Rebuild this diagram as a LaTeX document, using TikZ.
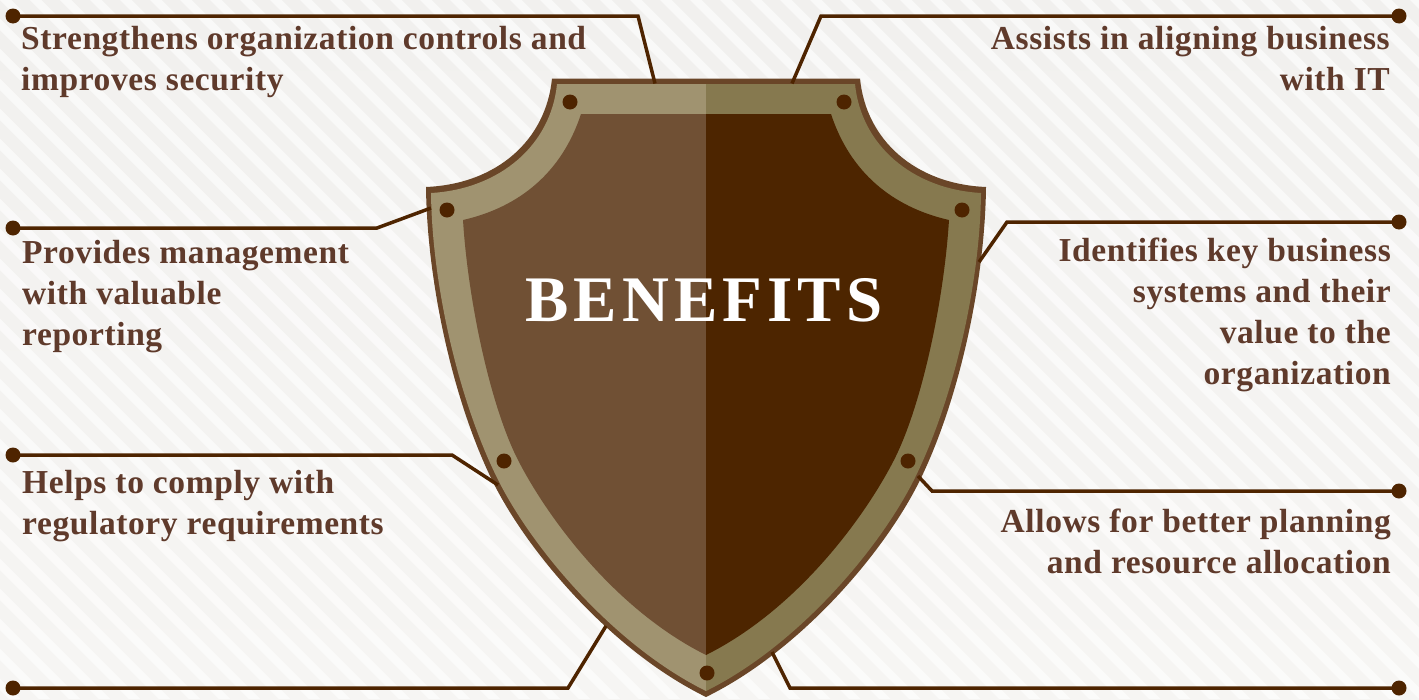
\documentclass[tikz,border=0pt]{standalone}
\usepackage{fontspec}
\setmainfont{Liberation Serif}
\newfontfamily\lblfont[LetterSpace=1.8]{Liberation Serif}
\newfontfamily\ttlfont[LetterSpace=7.8]{Liberation Serif}
\definecolor{linec}{HTML}{4E2400}
\definecolor{edgec}{HTML}{6A4628}
\definecolor{bandl}{HTML}{A09370}
\definecolor{bandr}{HTML}{86794F}
\definecolor{panl}{HTML}{705034}
\definecolor{panr}{HTML}{4D2500}
\definecolor{txtc}{HTML}{5F3A2B}
\definecolor{bgtop}{HTML}{F1F0EE}
\definecolor{bgbot}{HTML}{F6F5F3}
\tikzset{
  x=1pt,y=-1pt,
  dotn/.style={circle,fill=linec,inner sep=0pt,minimum size=15pt},
  stud/.style={circle,fill=linec,inner sep=0pt,minimum size=15pt},
  conn/.style={draw=linec,line width=3.5pt,line join=miter},
  lbl/.style={inner sep=0pt,text=txtc,font=\fontsize{33.5}{41}\selectfont\lblfont\bfseries},
  lbll/.style={lbl,anchor=north west,align=left},
  lblr/.style={lbl,anchor=north east,align=right},
}
\begin{document}
\begin{tikzpicture}
\useasboundingbox (0,0) rectangle (1419,699);
\shade[top color=bgtop,bottom color=bgbot] (0,0) rectangle (1419,699);
\begin{scope}
\clip (0,0) rectangle (1419,699);
\foreach \i in {-24,...,48}{
  \fill[white,opacity=.6] ({\i*30},0) -- ({\i*30+11.5},0) -- ({\i*30+11.5+699},699) -- ({\i*30+699},699) -- cycle;
}
\end{scope}
% shield outer
\fill[edgec] (552,78.5) -- (860,78.5)
  .. controls (866,140) and (915,184) .. (986,187)
  .. controls (985,280) and (960,397) .. (921,478)
  .. controls (887,549) and (802,650) .. (706,697)
  .. controls (610,650) and (525,549) .. (491,478)
  .. controls (452,397) and (427,280) .. (426,187)
  .. controls (497,184) and (546,140) .. (552,78.5) -- cycle;
% metal band
\fill[bandl] (557,84) -- (706,84) -- (706,691)
  .. controls (613,645) and (530,546) .. (496,475.7)
  .. controls (457,395) and (432,282) .. (431,193)
  .. controls (500,189) and (551,145) .. (557,84) -- cycle;
\fill[bandr] (855,84) -- (706,84) -- (706,691)
  .. controls (799,645) and (882,546) .. (916,475.7)
  .. controls (955,395) and (980,282) .. (981,193)
  .. controls (912,189) and (861,145) .. (855,84) -- cycle;
% panel
\fill[panl] (581,114) -- (706,114) -- (706,655)
  .. controls (612,608) and (545,513) .. (518,460)
  .. controls (490,405) and (468,300) .. (463,220)
  .. controls (520,207) and (562,172) .. (581,114) -- cycle;
\fill[panr] (831,114) -- (706,114) -- (706,655)
  .. controls (800,608) and (867,513) .. (894,460)
  .. controls (922,405) and (944,300) .. (949,220)
  .. controls (892,207) and (850,172) .. (831,114) -- cycle;
% end dots
\node[dotn] (a1) at (13,16) {};
\node[dotn] (b1) at (1399,16) {};
\node[dotn] (a2) at (13,228) {};
\node[dotn] (b2) at (1399,222) {};
\node[dotn] (a3) at (13,455) {};
\node[dotn] (b3) at (1399,491) {};
\node[dotn] (a4) at (13,688) {};
\node[dotn] (b4) at (1399,688) {};
\coordinate (ae1) at (655,83.5);
\coordinate (be1) at (792,83.5);
\coordinate (ae2) at (431,208);
\coordinate (be2) at (979,262);
\coordinate (ae3) at (498,485);
\coordinate (be3) at (918,476);
\coordinate (ae4) at (606,626);
\coordinate (be4) at (772,652);
\draw[conn] (a1.center) -- (638,16) -- (ae1);
\draw[conn] (b1.center) -- (821,16) -- (be1);
\draw[conn] (a2.center) -- (377,228) -- (ae2);
\draw[conn] (b2.center) -- (1007,222) -- (be2);
\draw[conn] (a3.center) -- (452,455) -- (ae3);
\draw[conn] (b3.center) -- (932,491) -- (be3);
\draw[conn] (a4.center) -- (568,688) -- (ae4);
\draw[conn] (b4.center) -- (790,688) -- (be4);
% studs
\node[stud] (s1) at (570,102) {};
\node[stud] (s2) at (844,102) {};
\node[stud] (s3) at (447,210) {};
\node[stud] (s4) at (962,210) {};
\node[stud] (s5) at (504,461) {};
\node[stud] (s6) at (908,461) {};
\node[stud] (s7) at (707,673) {};
% title
\node[inner sep=0pt,anchor=base,text=white,font=\fontsize{65}{65}\selectfont\ttlfont\bfseries] (title) at (704,321) {BENEFITS};
% labels
\node[lbll] (t1) at (21,26.5) {Strengthens organization controls and\\improves security};
\node[lblr] (t2) at (1390,26.5) {Assists in aligning business\\with IT};
\node[lbll] (t3) at (22,240.5) {Provides management\\with valuable\\reporting};
\node[lblr] (t4) at (1391,237.5) {Identifies key business\\systems and their\\value to the\\organization};
\node[lbll] (t5) at (22,470) {Helps to comply with\\regulatory requirements};
\node[lblr] (t6) at (1391,508.5) {Allows for better planning\\and resource allocation};
\end{tikzpicture}
\end{document}
